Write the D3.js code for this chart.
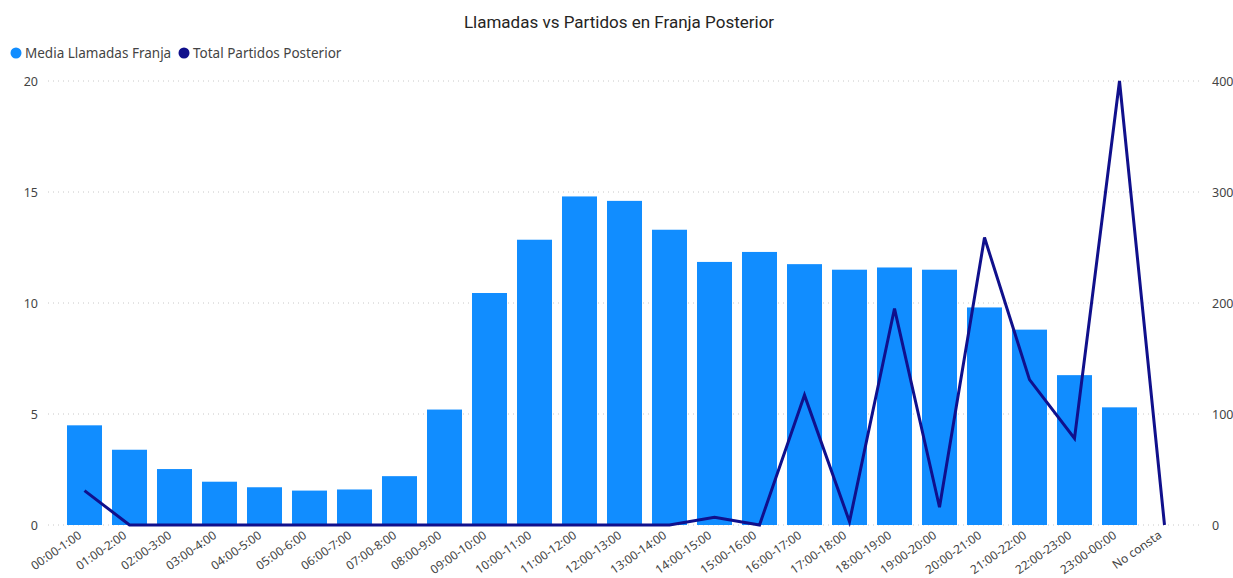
<!DOCTYPE html>
<html>
<head>
<meta charset="utf-8">
<script src="https://cdn.jsdelivr.net/npm/d3@7"></script>
<style>
  body { margin: 0; background: #fff; }
  svg { display: block; }
  .tick text { fill: #444; }
</style>
</head>
<body>
<svg id="chart" width="1233" height="578"></svg>
<script>
const categories = ["00:00-1:00", "01:00-2:00", "02:00-3:00", "03:00-4:00", "04:00-5:00", "05:00-6:00",
  "06:00-7:00", "07:00-8:00", "08:00-9:00", "09:00-10:00", "10:00-11:00", "11:00-12:00", "12:00-13:00",
  "13:00-14:00", "14:00-15:00", "15:00-16:00", "16:00-17:00", "17:00-18:00", "18:00-19:00", "19:00-20:00",
  "20:00-21:00", "21:00-22:00", "22:00-23:00", "23:00-00:00", "No consta"];
const mediaLlamadas = [4.49, 3.39, 2.52, 1.95, 1.7, 1.55, 1.6, 2.2, 5.2, 10.45, 12.85, 14.8, 14.6,
  13.3, 11.85, 12.3, 11.75, 11.5, 11.6, 11.5, 9.8, 8.8, 6.75, 5.3, null];
const totalPartidos = [31, 0, 0, 0, 0, 0, 0, 0, 0, 0, 0, 0, 0, 0, 7, 0, 117, 3, 195, 16, 259, 131, 78, 400, 0];
const leftTicks = [0, 5, 10, 15, 20];
const rightTicks = [0, 100, 200, 300, 400];

const svg = d3.select("#chart");
const font = "'Noto Sans', 'Open Sans', sans-serif";

const x = d3.scaleBand().domain(categories).range([62, 1187]).paddingInner(0.222).paddingOuter(0.111);
const yL = d3.scaleLinear().domain([0, 20]).range([525, 81]);
const yR = d3.scaleLinear().domain([0, 400]).range([525, 81]);

// title
svg.append("text")
  .attr("x", 619).attr("y", 28)
  .attr("text-anchor", "middle")
  .attr("font-family", "Roboto, 'DejaVu Sans', sans-serif")
  .attr("font-size", 17)
  .attr("fill", "#252423")
  .text("Llamadas vs Partidos en Franja Posterior");

// legend
const legend = [
  { name: "Media Llamadas Franja", color: "#118DFF", x: 16 },
  { name: "Total Partidos Posterior", color: "#10108C", x: 184 }
];
legend.forEach(d => {
  svg.append("circle").attr("cx", d.x).attr("cy", 53).attr("r", 5.5).attr("fill", d.color);
  svg.append("text").attr("x", d.x + 9).attr("y", 58)
    .attr("font-family", font).attr("font-size", 13.5).attr("fill", "#444")
    .text(d.name);
});

// gridlines
svg.append("g").selectAll("line")
  .data(leftTicks)
  .join("line")
  .attr("x1", 48).attr("x2", 1200)
  .attr("y1", d => yL(d)).attr("y2", d => yL(d))
  .attr("stroke", "#c8c8c8")
  .attr("stroke-dasharray", "1,4");

// left axis
const gL = svg.append("g").attr("transform", "translate(48,0)")
  .call(d3.axisLeft(yL).tickValues(leftTicks).tickSize(0).tickPadding(10));
gL.select(".domain").remove();
gL.selectAll("text").attr("font-family", font).attr("font-size", 12.5);

// right axis
const gR = svg.append("g").attr("transform", "translate(1200,0)")
  .call(d3.axisRight(yR).tickValues(rightTicks).tickSize(0).tickPadding(12));
gR.select(".domain").remove();
gR.selectAll("text").attr("font-family", font).attr("font-size", 12.5);

// bars
svg.append("g").selectAll("rect")
  .data(categories.map((c, i) => ({ c, v: mediaLlamadas[i] })).filter(d => d.v != null))
  .join("rect")
  .attr("x", d => x(d.c))
  .attr("width", x.bandwidth())
  .attr("y", d => yL(d.v))
  .attr("height", d => yL(0) - yL(d.v))
  .attr("fill", "#118DFF");

// line
const line = d3.line()
  .x((d, i) => x(categories[i]) + x.bandwidth() / 2)
  .y(d => yR(d));
svg.append("path")
  .datum(totalPartidos)
  .attr("d", line)
  .attr("fill", "none")
  .attr("stroke", "#10108C")
  .attr("stroke-width", 3);

// x axis labels
const gX = svg.append("g").attr("transform", "translate(0,525)")
  .call(d3.axisBottom(x).tickSize(0).tickPadding(0));
gX.select(".domain").remove();
gX.selectAll("text")
  .attr("font-family", font).attr("font-size", 12)
  .attr("text-anchor", "end")
  .attr("dy", 0)
  .attr("transform", "translate(-2,12) rotate(-35)");
</script>
</body>
</html>
